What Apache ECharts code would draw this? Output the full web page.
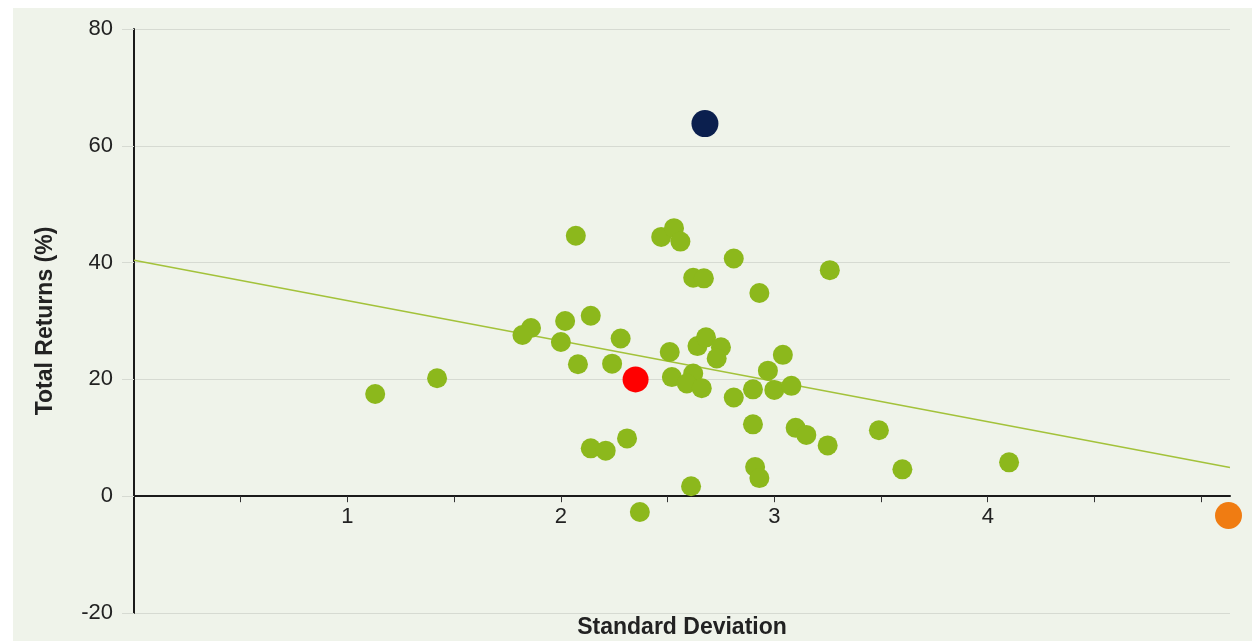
<!DOCTYPE html>
<html>
<head>
<meta charset="utf-8">
<script src="https://cdn.jsdelivr.net/npm/echarts@6/dist/echarts.min.js"></script>
<style>
  html, body { margin: 0; padding: 0; background: #ffffff; }
  #main { position: absolute; left: 13px; top: 8px; width: 1239px; height: 633px; }
</style>
</head>
<body>
<div id="main"></div>
<script>
// 同类基金：标准差 / 总回报
var peerSD = [1.13, 1.42, 2.07, 2.47, 2.53, 2.56, 2.81, 3.26, 2.62, 2.67,
              2.93, 2.14, 2.02, 1.86, 1.82, 2.00, 2.28, 2.51, 2.64, 2.68,
              2.75, 2.73, 3.04, 2.08, 2.24, 2.97, 2.52, 2.62, 2.59, 2.66,
              2.81, 2.90, 3.00, 3.08, 2.90, 3.10, 3.15, 3.25, 2.31, 2.14,
              2.21, 2.91, 2.93, 2.61, 2.37, 3.60, 3.49, 4.10];
var peerReturn = [17.5, 20.2, 44.6, 44.4, 45.9, 43.6, 40.7, 38.7, 37.4, 37.3,
                  34.8, 30.9, 30.0, 28.8, 27.6, 26.4, 27.0, 24.7, 25.7, 27.2,
                  25.5, 23.6, 24.2, 22.6, 22.7, 21.5, 20.4, 21.0, 19.3, 18.5,
                  16.9, 18.3, 18.2, 18.9, 12.3, 11.7, 10.5, 8.7, 9.9, 8.2,
                  7.8, 5.0, 3.1, 1.7, -2.7, 4.6, 11.3, 5.8];
// 突出显示的点
var redPoint = [2.35, 20.0];
var navyPoint = [2.675, 63.8];
var orangePoint = [5.128, -3.3];
// 趋势线两端
var trendX = [0, 5.135];
var trendY = [40.4, 4.9];
// 刻度
var xTicks = [0.5, 1, 1.5, 2, 2.5, 3, 3.5, 4, 4.5, 5];
var xLabels = [1, 2, 3, 4];

var peerData = [];
for (var i = 0; i < peerSD.length; i++) {
	peerData.push([peerSD[i], peerReturn[i]]);
}
var trendData = [];
for (var j = 0; j < trendX.length; j++) {
	trendData.push([trendX[j], trendY[j]]);
}

var myChart = echarts.init(document.getElementById('main'));
var font = '"Liberation Sans", Arial, sans-serif';
var gridHeight = 633 - 21 - 28;

myChart.setOption({
	backgroundColor : '#eff3ea',
	animation : false,
	grid : {
		left : 121,
		right : 22,
		top : 21,
		bottom : 28,
		containLabel : false,
		outerBoundsMode : 'none'
	},
	xAxis : {
		type : 'value',
		min : 0,
		max : 5.135,
		// x轴画在 y=0 处
		offset : -gridHeight * 20 / 100,
		name : 'Standard Deviation',
		nameLocation : 'middle',
		nameGap : 120,
		nameTextStyle : {
			color : '#222',
			fontFamily : font,
			fontSize : 23,
			fontWeight : 'bold'
		},
		axisLine : {
			onZero : false,
			lineStyle : { color : '#1a1a1a', width : 2 }
		},
		axisTick : {
			show : true,
			length : 6,
			customValues : xTicks,
			lineStyle : { color : '#333', width : 1 }
		},
		axisLabel : {
			customValues : xLabels,
			margin : 10,
			color : '#222',
			fontFamily : font,
			fontSize : 22
		},
		splitLine : { show : false }
	},
	yAxis : {
		type : 'value',
		min : -20,
		max : 80,
		interval : 20,
		name : 'Total Returns (%)',
		nameLocation : 'middle',
		nameGap : 77,
		nameTextStyle : {
			color : '#222',
			fontFamily : font,
			fontSize : 23,
			fontWeight : 'bold'
		},
		axisLine : {
			show : true,
			onZero : false,
			lineStyle : { color : '#1a1a1a', width : 2 }
		},
		axisTick : {
			show : true,
			length : 12,
			lineStyle : { color : '#d6dad2', width : 1 }
		},
		axisLabel : {
			margin : 21,
			color : '#222',
			fontFamily : font,
			fontSize : 22
		},
		splitLine : {
			show : true,
			lineStyle : { color : '#d6dad2', width : 1 }
		}
	},
	series : [ {
		name : 'trend',
		type : 'line',
		data : trendData,
		showSymbol : false,
		silent : true,
		lineStyle : { color : '#a3c23a', width : 1.5 },
		z : 1
	}, {
		name : 'peers',
		type : 'scatter',
		data : peerData,
		symbolSize : 20,
		itemStyle : { color : '#8cb81c', opacity : 1 },
		z : 2
	}, {
		name : 'fund',
		type : 'scatter',
		data : [ redPoint ],
		symbolSize : 26,
		itemStyle : { color : '#ff0000', opacity : 1 },
		z : 3
	}, {
		name : 'category',
		type : 'scatter',
		data : [ navyPoint ],
		symbolSize : 27,
		itemStyle : { color : '#0b1f4e', opacity : 1 },
		z : 3
	}, {
		name : 'index',
		type : 'scatter',
		data : [ orangePoint ],
		symbolSize : 27,
		clip : false,
		itemStyle : { color : '#f07c12', opacity : 1 },
		z : 3
	} ]
});
</script>
</body>
</html>
